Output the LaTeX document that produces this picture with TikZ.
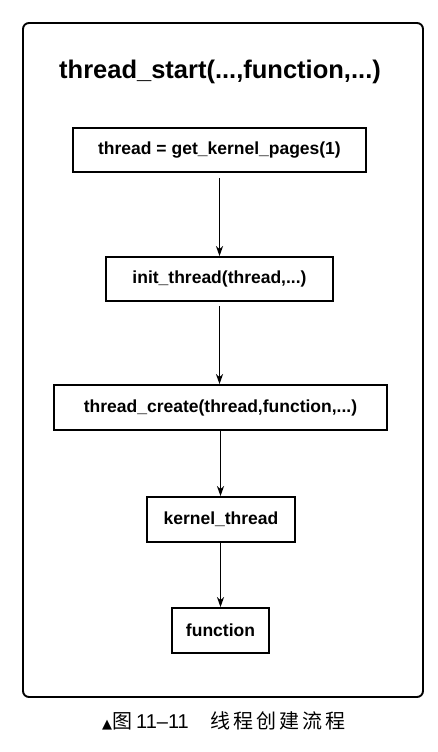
\documentclass[tikz,border=0pt]{standalone}
\usepackage{fontspec}
\setmainfont{Liberation Sans}
\newfontfamily\cjk{Noto Sans CJK SC}
\newfontfamily\dejavu{DejaVu Sans}
\usetikzlibrary{arrows.meta}
\begin{document}
\begin{tikzpicture}[x=1pt,y=-1pt,
  stepbox/.style={draw, line width=1.8pt, inner sep=0pt, font=\bfseries\fontsize{17.5}{19}\selectfont},
  flow/.style={line width=1.8pt, -{Stealth[length=10pt,width=7pt,inset=3pt]}}]
\useasboundingbox (0,0) rectangle (438,752);
\draw[line width=1.9pt, rounded corners=6pt] (23,23) rectangle (423,697);
\node[font=\bfseries\fontsize{25.5}{27}\selectfont] (title) at (220,72) {thread\_start(...,function,...)};
\node[stepbox, minimum width=293pt, minimum height=44pt] (b1) at (219.5,150) {thread = get\_kernel\_pages(1)};
\node[stepbox, minimum width=227pt, minimum height=44pt] (b2) at (219.5,279) {init\_thread(thread,...)};
\node[stepbox, minimum width=333pt, minimum height=45pt] (b3) at (220.5,407.5) {thread\_create(thread,function,...)};
\node[stepbox, minimum width=148pt, minimum height=45pt] (b4) at (221,519.5) {kernel\_thread};
\node[stepbox, minimum width=97pt, minimum height=45pt] (b5) at (220.5,630.5) {function};
\draw[flow, shorten <=5pt] (b1.south -| 219.5,0) -- (b2.north -| 219.5,0);
\draw[flow, shorten <=4pt] (b2.south -| 219.5,0) -- (b3.north -| 219.5,0);
\draw[flow] (b3.south -| 220.5,0) -- (b4.north -| 220.5,0);
\draw[flow] (b4.south -| 220.5,0) -- (b5.north -| 220.5,0);
\node[font=\fontsize{20}{22}\selectfont, inner sep=0pt] (cap) at (224,721) {{\dejavu\fontsize{13}{14}\selectfont ▲}{\cjk 图}\hspace{4pt}11–11\hspace{1.1em}{\cjk 线\hspace{3pt}程\hspace{3pt}创\hspace{3pt}建\hspace{3pt}流\hspace{3pt}程}};
\end{tikzpicture}
\end{document}
